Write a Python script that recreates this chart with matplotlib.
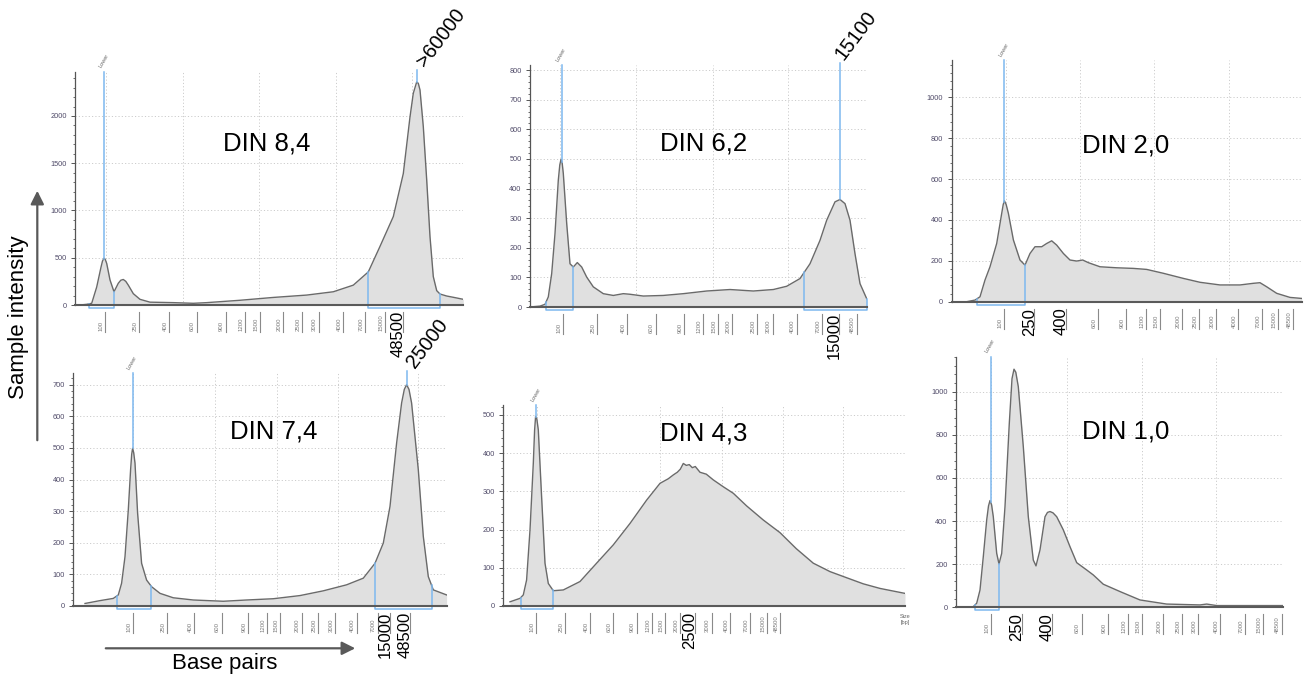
import matplotlib
matplotlib.use('Agg')
import matplotlib.pyplot as plt
import numpy as np
from matplotlib.patches import FancyArrowPatch
from matplotlib.ticker import MultipleLocator, AutoMinorLocator

plt.rcParams['font.family'] = ['Liberation Sans', 'DejaVu Sans']

W, H = 1305, 677
BLUE = '#7db8ef'

# ladder sizes shown under every trace
LADDER = ['100', '250', '400', '600', '900', '1200', '1500', '2000', '2500',
          '3000', '4000', '7000', '15000', '48500']

# DIN 8,4  (migration position, intensity)
pos_84 = [5, 11.7, 16.7, 21.7, 26, 27.5, 29, 30.3, 31.7, 35, 39, 43.3, 45.8, 48.3, 50.8,
          53.3, 58.3, 65, 75, 98.3, 118.3, 131.7, 165, 198.3, 231.7, 258.3, 278.3, 293.3,
          305, 318.3, 328.3, 335, 338.3, 341.7, 343.3, 345, 348.3, 351.7, 355, 358.3,
          361.7, 365, 371.7, 380, 388.3]
int_84 = [0, 7, 18, 190, 400, 465, 495, 480, 440, 265, 140, 230, 262, 270, 250,
          210, 120, 60, 30, 25, 18, 25, 50, 80, 105, 140, 210, 350,
          620, 935, 1390, 1990, 2240, 2360, 2345, 2275, 1887, 1323, 723, 300,
          152, 116, 95, 78, 60]
ladder_84 = [30, 64.3, 94, 121.7, 150.7, 169.7, 185, 208.3, 227.3, 243.7, 268.3, 290, 310, 328]

# DIN 6,2
pos_62 = [0, 10, 15, 18.3, 21.7, 25, 28.3, 29.8, 31, 32.2, 33.3, 36.7, 40, 43.3, 47.3,
          51.7, 56.7, 63.3, 73.3, 83.3, 93.3, 100, 113.3, 133.3, 153.3, 176.7, 200,
          223.3, 243.3, 256.7, 270, 280, 290, 296.7, 305, 310, 315, 320, 325, 330, 336.7]
int_62 = [0, 3, 9, 34, 113, 248, 428, 480, 498, 485, 451, 282, 146, 135, 150,
          135, 101, 68, 45, 39, 45, 43, 37, 39, 45, 54, 59,
          54, 59, 70, 96, 146, 225, 293, 355, 363, 349, 293, 180, 79, 28]
ladder_62 = [33.3, 67.3, 97.3, 125.7, 154, 173.3, 187.7, 202.3, 226.7, 242.7, 266.7, 291.7, 309, 326.7]

# DIN 2,0
pos_20 = [0, 15, 23.3, 28.3, 33.3, 38.3, 45, 50, 51.5, 52.7, 54.5, 56.7, 61.7, 68.3, 73.3,
          78.3, 83.3, 90, 95, 100, 105, 111.7, 118.3, 125, 131, 136.7, 148.3, 165, 181.7,
          195, 211.7, 231.7, 248.3, 268.3, 288.3, 301.7, 308.3, 315, 325, 338.3, 350]
int_20 = [0, 0, 8, 24, 106, 171, 285, 432, 475, 494, 475, 432, 302, 204, 179,
          236, 269, 269, 285, 298, 277, 236, 204, 199, 204, 191, 171, 166, 163,
          158, 139, 114, 95, 82, 82, 90, 93, 73, 41, 21, 16]
ladder_20 = [52.6, 82.6, 114, 146.6, 174.3, 194, 208.3, 230, 247.3, 264.3, 286.7, 310, 326.7, 341.7]

# DIN 7,4
pos_74 = [11.7, 26.7, 40, 45, 48.3, 51.7, 55, 57.3, 58.4, 59.3, 60.4, 61.7, 64.3, 68.3,
          73.3, 78.3, 86.7, 100, 120, 150, 173.3, 200, 226.7, 250, 273.3, 290, 301.7,
          310, 316.7, 323.3, 328.3, 331, 333.3, 335.7, 338.3, 345, 350, 355, 360, 373.3]
int_74 = [8, 17, 24, 35, 72, 156, 304, 431, 480, 499, 485, 452, 294, 135,
          82, 61, 40, 26, 19, 15, 19, 23, 33, 48, 67, 88, 135,
          199, 315, 515, 642, 685, 700, 685, 642, 431, 220, 93, 51, 35]
ladder_74 = [60, 94, 121, 148.3, 175, 193.3, 206.7, 228.3, 245, 261.7, 283.3, 304.3, 316.7, 336.7]

# DIN 4,3
pos_43 = [6.7, 16.7, 20, 23.3, 26.7, 30, 31.3, 32.3, 33.5, 35, 38.3, 41.7, 45, 50, 60,
          76.7, 93.3, 110, 126.7, 143.3, 156.7, 165, 170, 174, 177, 180, 183, 186, 189,
          192, 196.7, 203, 210, 220, 230, 243.3, 260, 276.7, 293, 310, 326.7, 343.3,
          360, 376.7, 401.7]
int_43 = [11, 20, 29, 68, 199, 373, 460, 496, 490, 461, 286, 112, 59, 40, 42,
          64, 112, 160, 216, 277, 321, 333, 343, 350, 358, 373, 368, 370, 362,
          365, 350, 345, 330, 312, 295, 262, 225, 192, 150, 112, 90, 74,
          58, 46, 33]
ladder_43 = [32.7, 61.7, 86.7, 110, 133.3, 148.3, 161.7, 176.7, 191.7, 208.3, 226.7, 246.7, 263.3, 276.7]

# DIN 1,0
pos_10 = [0, 17.3, 20.7, 24, 27.3, 30.7, 32.5, 34, 35.6, 37.3, 40.7, 43, 45.7, 49, 53.3,
          56, 58, 59.8, 62.3, 67.3, 72.3, 77.3, 80, 84, 89, 91.5, 94, 97, 100.7, 107.3,
          114, 120.7, 130.7, 137.3, 147.3, 164, 184, 210.7, 244, 250.7, 260.7, 327.3]
int_10 = [0, 3, 19, 80, 235, 405, 470, 495, 475, 420, 250, 201, 250, 467, 853,
          1060, 1104, 1090, 1023, 745, 420, 219, 192, 266, 420, 440, 444, 438, 420, 359,
          281, 207, 173, 150, 107, 73, 34, 15, 11, 15, 8, 8]
ladder_10 = [34.7, 65.7, 95.7, 125.7, 152.3, 172.3, 185.7, 207.3, 225.7, 242.3, 264, 289, 307.3, 325.7]

DIN_LABELS = ['DIN 8,4', 'DIN 6,2', 'DIN 2,0', 'DIN 7,4', 'DIN 4,3', 'DIN 1,0']


def draw_panel(fig, box, pos, inten, ladder, big, ymax, ystep, nminor, grid_x,
               lower, brackets, peak=None, peak_label=None, peak_dx=10, size_label=False):
    left, right, top, base = box
    hpx = base - top
    ax = fig.add_axes([left / W, 1 - base / H, (right - left) / W, hpx / H])
    ax.set_xlim(0, right - left)
    ax.set_ylim(0, ymax)

    ax.fill_between(pos, inten, 0, color='#e0e0e0', lw=0, zorder=2)
    ax.plot(pos, inten, color='#6a6a6a', lw=1.0, zorder=3, solid_joinstyle='round')

    # dotted grid
    ax.set_xticks(grid_x)
    ax.tick_params(axis='x', length=0, labelbottom=False)
    ax.yaxis.set_major_locator(MultipleLocator(ystep))
    ax.yaxis.set_minor_locator(AutoMinorLocator(nminor))
    ax.grid(True, which='major', color='#cccccc', lw=0.7, ls=(0, (1.2, 2.2)))
    ax.set_axisbelow(True)
    ax.tick_params(axis='y', which='major', labelsize=5.3, labelcolor='#4f4a68',
                   color='#555555', length=3, width=0.7, pad=3)
    ax.tick_params(axis='y', which='minor', color='#555555', length=1.8, width=0.6)
    for s in ['top', 'right']:
        ax.spines[s].set_visible(False)
    ax.spines['left'].set_color('#555555')
    ax.spines['left'].set_linewidth(0.9)
    ax.spines['bottom'].set_color('#5a5a5a')
    ax.spines['bottom'].set_linewidth(1.5)
    ax.spines['bottom'].set_zorder(5)

    # size ladder under the trace
    xt = ax.get_xaxis_transform()
    for lab, p in zip(LADDER, ladder):
        ax.plot([p, p], [-7 / hpx, -27 / hpx], transform=xt, clip_on=False,
                color='#8a8a8a', lw=0.8)
        if lab in big:
            ax.text(p - 5, -6 / hpx, lab, transform=xt, rotation=90, ha='center',
                    va='top', fontsize=12, color='black')
        else:
            ax.text(p - 4, -26 / hpx, lab, transform=xt, rotation=90, ha='center',
                    va='bottom', fontsize=4.3, color='#7a7a7a')

    # lower marker
    ax.plot([lower, lower], [np.interp(lower, pos, inten), ymax], color=BLUE,
            lw=1.1, zorder=4, clip_on=False)
    ax.text(lower - 2, 1 + 3 / hpx, 'Lower', transform=xt, rotation=60,
            rotation_mode='anchor', ha='left', va='bottom', fontsize=4, color='#666666')

    # integration brackets
    ylow = -3 * ymax / hpx
    for x1, x2 in brackets:
        ax.plot([x1, x1, x2, x2],
                [np.interp(x1, pos, inten), ylow, ylow, np.interp(x2, pos, inten)],
                color=BLUE, lw=1.1, clip_on=False, zorder=4)

    if peak is not None:
        ax.plot([peak, peak], [np.interp(peak, pos, inten), ymax * 1.01], color=BLUE,
                lw=1.1, zorder=4, clip_on=False)
        ax.text(peak + peak_dx, 1 + 2 / hpx, peak_label, transform=xt, rotation=53,
                rotation_mode='anchor', ha='left', va='bottom', fontsize=14.5)

    if size_label:
        ax.text(1.0, -8 / hpx, 'Size\n[bp]', transform=ax.transAxes, ha='center',
                va='top', fontsize=4, color='#666666', linespacing=1.3)
    return ax


def main():
    fig = plt.figure(figsize=(W / 100, H / 100), dpi=100)

    draw_panel(fig, (75, 463, 72, 305), pos_84, int_84, ladder_84, {'48500'},
               2465, 500, 5, [31, 108, 184, 261, 337], 29.3,
               [(14, 39), (293.3, 365)], peak=341.7, peak_label='>60000', peak_dx=11)
    draw_panel(fig, (530, 867, 65, 307), pos_62, int_62, ladder_62, {'15000'},
               817, 100, 5, [30, 106, 183, 258], 31.7,
               [(16, 43.3), (274.3, 336.7)], peak=310, peak_label='15100', peak_dx=7)
    draw_panel(fig, (951.7, 1301.7, 60, 301.7), pos_20, int_20, ladder_20, {'250', '400'},
               1183, 200, 5, [54, 128, 202, 277], 52.3, [(25.6, 73.3)])
    draw_panel(fig, (73.3, 446.7, 373, 606), pos_74, int_74, ladder_74, {'15000', '48500'},
               737, 100, 5, [60, 141.7, 203.3, 265, 345], 59.3,
               [(43.3, 77.7), (301.7, 358.3)], peak=333.3, peak_label='25000', peak_dx=12)
    draw_panel(fig, (503.3, 905, 405, 606), pos_43, int_43, ladder_43, {'2500'},
               526, 100, 5, [33.3, 95, 156.7, 218.3, 280, 340, 401.7], 32.7,
               [(17.3, 49.3)], size_label=True)
    draw_panel(fig, (956, 1283.3, 356.7, 607.3), pos_10, int_10, ladder_10, {'250', '400'},
               1162, 200, 5, [34.7, 110.7, 185.7, 259.7], 34.7, [(19.3, 43)])

    din_xy = [(266.7, 143.3), (703.3, 143.3), (1126, 145),
              (273.3, 431.7), (703.3, 433.3), (1126, 431.7)]
    for lab, (cx, cy) in zip(DIN_LABELS, din_xy):
        fig.text(cx / W, 1 - cy / H, lab, ha='center', va='center', fontsize=18.5)

    # axis captions with arrows
    fig.text(18.5 / W, 1 - 317 / H, 'Sample intensity', rotation=90, ha='center',
             va='center', fontsize=16)
    fig.text(225 / W, 1 - 663 / H, 'Base pairs', ha='center', va='center', fontsize=16)
    fig.add_artist(FancyArrowPatch((37.3 / W, 1 - 443 / H), (37.3 / W, 1 - 188 / H),
                                   transform=fig.transFigure, color='#595959', lw=1.6,
                                   arrowstyle='-|>,head_length=0.8,head_width=0.4',
                                   mutation_scale=10))
    fig.add_artist(FancyArrowPatch((103 / W, 1 - 648.3 / H), (358 / W, 1 - 648.3 / H),
                                   transform=fig.transFigure, color='#595959', lw=1.6,
                                   arrowstyle='-|>,head_length=0.8,head_width=0.4',
                                   mutation_scale=10))

    fig.savefig('out.png', dpi=100)


if __name__ == '__main__':
    main()
